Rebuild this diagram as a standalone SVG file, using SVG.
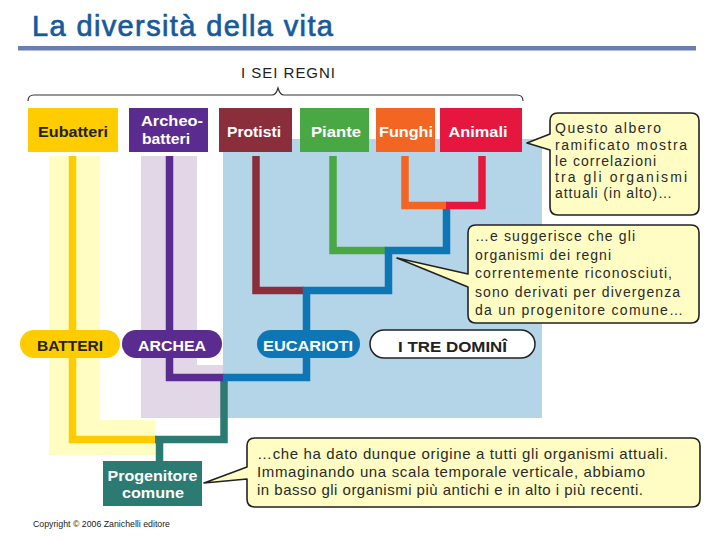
<svg xmlns="http://www.w3.org/2000/svg" width="720" height="540" viewBox="0 0 720 540">
<style>
text{font-family:"Liberation Sans",Arial,sans-serif}
.lbl{font-size:15px;font-weight:bold;text-anchor:middle}
.w{fill:#ffffff}
.d{fill:#222222}
.co{font-size:14px;fill:#2a2a2a}
.co3{font-size:15px;fill:#2a2a2a}
.call{fill:#FFFDC4;stroke:#222222;stroke-width:1.6;stroke-linejoin:round}
.ln{fill:none;stroke-width:7.5;stroke-linejoin:miter;stroke-linecap:butt}
</style>
<rect width="720" height="540" fill="#ffffff"/>
<text x="32" y="36" font-size="29" fill="#165A9C" stroke="#165A9C" stroke-width="0.7" textLength="301" lengthAdjust="spacing">La diversità della vita</text>
<rect x="18" y="46" width="678" height="4.5" fill="#6B7DB5"/>

<!-- background shadings -->
<path d="M49 156 H100 V420 H155 V455 H49 Z" fill="#FFFDC2"/>
<path d="M141 156 H197 V365 H223 V418 H141 Z" fill="#E2D7E7"/>
<rect x="223" y="139" width="319" height="279" fill="#B4D4E8"/>

<text x="288" y="78" font-size="15" fill="#222" text-anchor="middle" textLength="94" lengthAdjust="spacing">I SEI REGNI</text>
<path d="M28 101 Q28 95 34 95 H272 Q276 95 278 88 Q280 95 284 95 H517 Q523 95 523 101" fill="none" stroke="#333" stroke-width="1.2"/>

<g id="connectors">
<path class="ln" stroke="#FFCC00" d="M72.5 156 V439.5 H157"/>
<path class="ln" stroke="#2B7B72" d="M224 377.5 V439.5 H155 M159.5 439.5 V461"/>
<path class="ln" stroke="#5B2C8F" d="M169.5 156 V377.5 H224"/>
<path class="ln" stroke="#8B2E3C" d="M256 156 V290.5 H304"/>
<path class="ln" stroke="#4AA844" d="M333 156 V250.5 H386"/>
<path class="ln" stroke="#F26522" d="M405 156 V205.5 H447"/>
<path class="ln" stroke="#E6173F" d="M482 156 V205.5 H446"/>
<path class="ln" stroke="#0E76B5" d="M223 377.5 H306.5 V290.5 H388.5 V250.5 H446.5 V209"/>
</g>

<g id="eubatteri">
<rect x="28" y="108" width="90" height="44" fill="#FFCC00"/>
<text class="lbl d" x="73" y="137" textLength="70" lengthAdjust="spacingAndGlyphs">Eubatteri</text>
</g>
<g id="archeobatteri">
<rect x="129" y="108" width="79" height="44" fill="#5B2C8F"/>
<text class="w" x="141" y="126" font-size="15" font-weight="bold" textLength="62" lengthAdjust="spacingAndGlyphs">Archeo-</text>
<text class="w" x="142" y="144" font-size="15" font-weight="bold" textLength="48" lengthAdjust="spacingAndGlyphs">batteri</text>
</g>
<g id="protisti">
<rect x="219" y="108" width="73" height="44" fill="#8B2E3C"/>
<text class="lbl w" x="254" y="137" textLength="54" lengthAdjust="spacingAndGlyphs">Protisti</text>
</g>
<g id="piante">
<rect x="300" y="108" width="69" height="44" fill="#4AA844"/>
<text class="lbl w" x="336" y="137" textLength="50" lengthAdjust="spacingAndGlyphs">Piante</text>
</g>
<g id="funghi">
<rect x="376" y="108" width="59" height="44" fill="#F26522"/>
<text class="lbl w" x="406" y="137" textLength="54" lengthAdjust="spacingAndGlyphs">Funghi</text>
</g>
<g id="animali">
<rect x="440" y="108" width="82" height="44" fill="#E6173F"/>
<text class="lbl w" x="478" y="137" textLength="59" lengthAdjust="spacingAndGlyphs">Animali</text>
</g>

<g id="batteri">
<rect x="20" y="330" width="100" height="28" rx="14" fill="#FFCC00"/>
<text class="lbl d" x="70" y="351" textLength="66" lengthAdjust="spacingAndGlyphs">BATTERI</text>
</g>
<g id="archea">
<rect x="122" y="330" width="100" height="28" rx="14" fill="#5B2C8F"/>
<text class="lbl w" x="172" y="351" textLength="68" lengthAdjust="spacingAndGlyphs">ARCHEA</text>
</g>
<g id="eucarioti">
<rect x="257" y="330" width="103" height="28" rx="14" fill="#0E76B5"/>
<text class="lbl w" x="308" y="351" textLength="90" lengthAdjust="spacingAndGlyphs">EUCARIOTI</text>
</g>
<g id="tre-domini">
<rect x="370" y="330" width="165" height="28" rx="14" fill="#ffffff" stroke="#222" stroke-width="1.5"/>
<text class="lbl d" x="452.5" y="352" textLength="109" lengthAdjust="spacingAndGlyphs">I TRE DOMINÎ</text>
</g>

<g id="progenitore">
<rect x="103" y="461" width="99" height="45" fill="#2B7B72"/>
<text class="lbl w" x="152.5" y="481" textLength="90" lengthAdjust="spacingAndGlyphs">Progenitore</text>
<text class="lbl w" x="153" y="498" textLength="62" lengthAdjust="spacingAndGlyphs">comune</text>
</g>

<g id="callout1">
<path class="call" d="M558 113 H691 Q699 113 699 121 V207 Q699 215 691 215 H558 Q550 215 550 207 V150 L527 143 L550 134 V121 Q550 113 558 113 Z"/>
<text class="co" x="555" y="133" textLength="106" lengthAdjust="spacing">Questo albero</text>
<text class="co" x="555" y="149.5" textLength="132" lengthAdjust="spacing">ramificato mostra</text>
<text class="co" x="555" y="166" textLength="101" lengthAdjust="spacing">le correlazioni</text>
<text class="co" x="555" y="182" textLength="132" lengthAdjust="spacing">tra gli organismi</text>
<text class="co" x="555" y="198" textLength="117" lengthAdjust="spacing">attuali (in alto)…</text>
</g>

<g id="callout2">
<path class="call" d="M476 225 H691 Q699 225 699 233 V315 Q699 323 691 323 H476 Q468 323 468 315 V287 L397 258 L468 274 V233 Q468 225 476 225 Z"/>
<text class="co" x="475" y="241" textLength="160" lengthAdjust="spacing">…e suggerisce che gli</text>
<text class="co" x="475" y="259.5" textLength="136" lengthAdjust="spacing">organismi dei regni</text>
<text class="co" x="475" y="278" textLength="197" lengthAdjust="spacing">correntemente riconosciuti,</text>
<text class="co" x="475" y="296.5" textLength="205" lengthAdjust="spacing">sono derivati per divergenza</text>
<text class="co" x="475" y="315" textLength="208" lengthAdjust="spacing">da un progenitore comune…</text>
</g>

<g id="callout3">
<path class="call" d="M255 438 H692 Q700 438 700 446 V499 Q700 507 692 507 H255 Q247 507 247 499 V479 L204 483 L247 467 V446 Q247 438 255 438 Z"/>
<text class="co3" x="257" y="459" textLength="411" lengthAdjust="spacing">…che ha dato dunque origine a tutti gli organismi attuali.</text>
<text class="co3" x="257" y="477" textLength="388" lengthAdjust="spacing">Immaginando una scala temporale verticale, abbiamo</text>
<text class="co3" x="257" y="495" textLength="386" lengthAdjust="spacing">in basso gli organismi più antichi e in alto i più recenti.</text>
</g>

<text x="33" y="527" font-family="Liberation Serif, Times New Roman, serif" font-size="9" fill="#222" textLength="137" lengthAdjust="spacingAndGlyphs">Copyright © 2006 Zanichelli editore</text>
</svg>
